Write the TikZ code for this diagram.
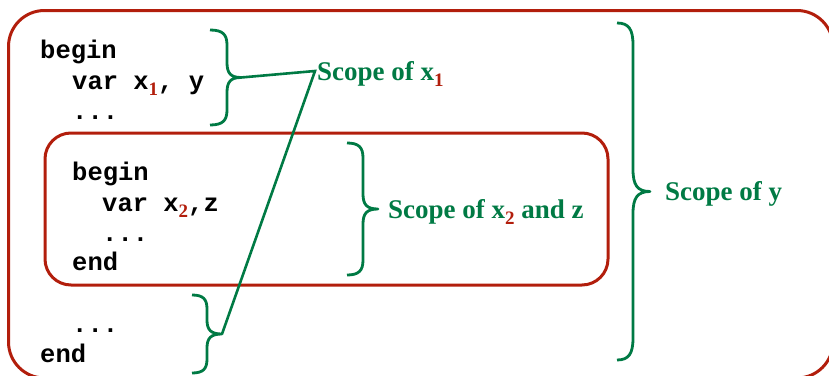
\documentclass[tikz,border=0pt]{standalone}
\usepackage{fontspec}
\setmainfont{Liberation Serif}
\setmonofont{Liberation Mono}
\definecolor{boxred}{RGB}{178,30,12}
\definecolor{sgreen}{RGB}{0,122,68}
\newcommand\rsub[1]{\raisebox{-6pt}{\fontsize{19}{19}\selectfont\rmfamily\bfseries\color{boxred}#1}}
% x, y1, y2, ym, spine offset, point offset, curl
\newcommand\mybrace[7]{%
  \draw[brc] (#1,#2) .. controls ({#1+0.75*#5},#2) and ({#1+#5},{#2+0.3*#7}) .. ({#1+#5},{#2+#7})
    -- ({#1+#5},{#4-#7}) .. controls ({#1+#5},{#4-0.3*#7}) and ({#1+#5+0.25*(#6-#5)},#4) .. ({#1+#6},#4)
    .. controls ({#1+#5+0.25*(#6-#5)},#4) and ({#1+#5},{#4+0.3*#7}) .. ({#1+#5},{#4+#7})
    -- ({#1+#5},{#3-#7}) .. controls ({#1+#5},{#3-0.3*#7}) and ({#1+0.75*#5},#3) .. (#1,#3);}
\tikzset{
  code/.style={font=\fontsize{25.5}{30}\selectfont\ttfamily\bfseries, anchor=base west, inner sep=0pt},
  lab/.style={font=\fontsize{27}{32}\selectfont\rmfamily\bfseries, text=sgreen, anchor=base west, inner sep=0pt},
  brc/.style={draw=sgreen, line width=2.8pt, line join=round},
  frame/.style={draw=boxred, line width=3pt},
  conn/.style={draw=sgreen, line width=2.6pt, line join=miter}
}
\begin{document}
\begin{tikzpicture}[x=1pt,y=-1pt]
\useasboundingbox (0,0) rectangle (829,375);
\clip (0,0) rectangle (829,375);
% frames
\draw[frame, rounded corners=36pt] (8.5,10.5) rectangle (833,378);
\draw[frame, rounded corners=26pt] (45,133) rectangle (608,285);
% outer code
\node[code] (c1) at (40,58) {begin};
\node[code] (c2) at (72,89) {var x\rsub{1}, y};
\node[code] (c3) at (72,119.5) {...};
% inner code
\node[code] (i1) at (72,180) {begin};
\node[code] (i2) at (102,211) {var x\rsub{2},z};
\node[code] (i3) at (102,241.5) {...};
\node[code] (i4) at (72,270.5) {end};
% bottom code
\node[code] (c4) at (72,332) {...};
\node[code] (c5) at (40,362) {end};
% braces
\mybrace{210}{30}{125}{77.5}{17}{31}{15}
\coordinate (b1) at (241,77.5);
\mybrace{347}{143}{275}{209}{16}{31}{15}
\mybrace{192}{295}{373}{334}{15}{30}{14}
\coordinate (b3) at (222,334);
\mybrace{617}{23}{360}{191.5}{16}{33}{22}
% labels
\node[lab] (lx1) at (317,80) {Scope of x\rsub{1}};
\node[lab] (lx2) at (388,218) {Scope of x\rsub{2} and z};
\node[lab] (ly) at (665,200) {Scope of y};
% connectors
\coordinate (j) at ([shift={(-2,-9)}]lx1.base west);
\draw[conn] (b1) -- (j) -- (b3);
\end{tikzpicture}
\end{document}
